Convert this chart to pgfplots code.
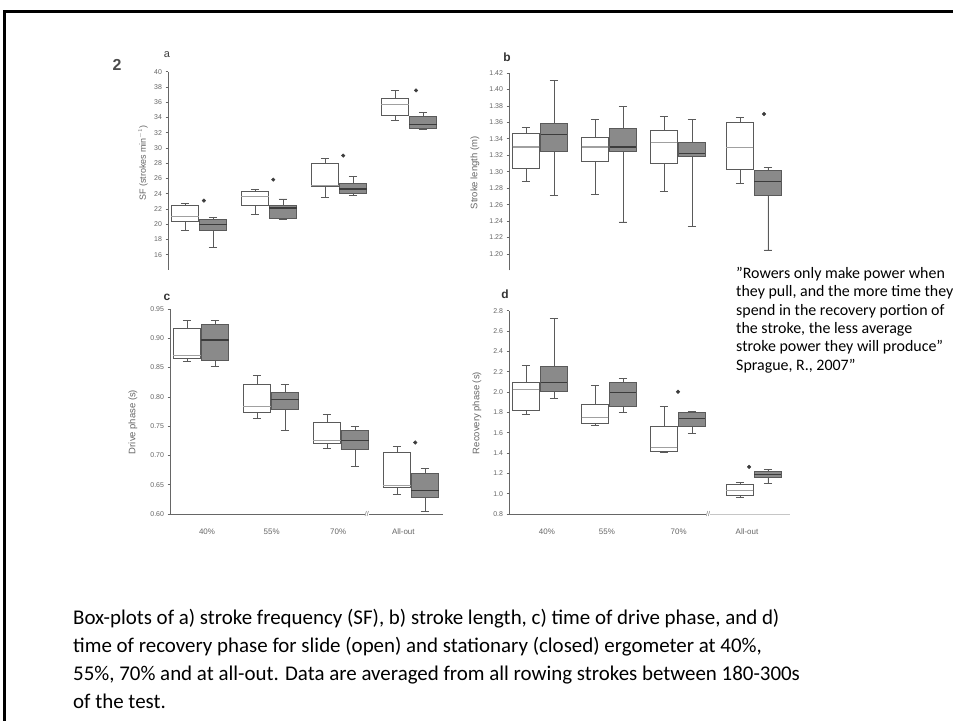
\documentclass[border=0pt]{standalone}
\usepackage{fontspec}
\setmainfont{Carlito}
\newfontfamily\figfont{Liberation Sans}
\usepackage{pgfplots}
\pgfplotsset{compat=1.18}
\usepgfplotslibrary{statistics}

\definecolor{axgray}{HTML}{666666}
\definecolor{boxdark}{HTML}{8A8A8A}
\definecolor{boxedge}{HTML}{5A5A5A}
\definecolor{medw}{HTML}{A0A0A0}
\definecolor{medd}{HTML}{3C3C3C}

\pgfplotsset{
 panel/.style={
  scale only axis, clip=false, anchor=south west,
  axis x line*=bottom, axis y line*=left,
  x axis line style={draw=none},
  y axis line style={axgray, line width=0.8bp, -},
  tick align=outside, major tick length=2.5bp,
  ytick style={axgray, line width=0.6bp},
  xtick style={draw=none},
  yticklabel style={font=\figfont\fontsize{7}{8}\selectfont, text=axgray},
  xticklabel style={font=\figfont\fontsize{8}{9}\selectfont, text=axgray, yshift=-9bp},
  /pgf/number format/assume math mode=true,
 },
 wbox/.style={draw=boxedge, fill=white, line width=0.8bp,
   boxplot/every median/.style={draw=medw, line width=1.2bp}},
 dbox/.style={draw=boxedge, fill=boxdark, line width=0.8bp,
   boxplot/every median/.style={draw=medd, line width=1.2bp}},
 star/.style={only marks, mark=*, mark size=1.8bp, color=medd},
}
% open (slide) box: position, lower whisker, lower quartile, median, upper quartile, upper whisker
\newcommand{\bw}[6]{\addplot[wbox, boxplot prepared={draw direction=y, draw position=#1, lower whisker=#2, lower quartile=#3, median=#4, upper quartile=#5, upper whisker=#6, box extend=0.39, whisker extend=0.12}] coordinates {};}
% closed (stationary) box
\newcommand{\bd}[6]{\addplot[dbox, boxplot prepared={draw direction=y, draw position=#1, lower whisker=#2, lower quartile=#3, median=#4, upper quartile=#5, upper whisker=#6, box extend=0.39, whisker extend=0.12}] coordinates {};}

\begin{document}
\begin{tikzpicture}[x=1bp,y=1bp]
\useasboundingbox (0,0) rectangle (953,721);
\fill[white] (0,0) rectangle (953,721);
\draw[line width=3bp] (4.5,0) -- (4.5,709) -- (953,709);

% ---------- panel a ----------
\begin{axis}[panel, at={(168bp,451bp)}, width=272.5bp, height=198.25bp,
  xmin=0.557, xmax=4.45, ymin=14, ymax=40,
  xtick=\empty, ytick={16,18,...,40}]
\bw{0.8}{19.2}{20.4}{21.0}{22.5}{22.7}
\bd{1.2}{16.9}{19.2}{20.0}{20.6}{20.9}
\bw{1.8}{21.26}{22.48}{23.67}{24.32}{24.63}
\bd{2.2}{20.6}{20.82}{22.13}{22.48}{23.31}
\bw{2.8}{23.53}{24.9}{25.05}{28.04}{28.61}
\bd{3.2}{23.75}{24.01}{24.63}{25.33}{26.25}
\bw{3.8}{33.65}{34.26}{35.71}{36.5}{37.55}
\bd{4.2}{32.42}{32.51}{33.08}{34.09}{34.61}
\addplot[star] coordinates {(1.07,23.1) (2.06,25.85) (3.06,29.0) (4.1,37.55)};
\end{axis}

% ---------- panel b ----------
\begin{axis}[panel, at={(509bp,450.5bp)}, width=280.8bp, height=197.6bp,
  xmin=0.551, xmax=4.62, ymin=1.18, ymax=1.42,
  xtick=\empty, ytick={1.20,1.22,1.24,1.26,1.28,1.30,1.32,1.34,1.36,1.38,1.40,1.42},
  yticklabel style={/pgf/number format/.cd, fixed, fixed zerofill, precision=2}]
\bw{0.797}{1.288}{1.304}{1.330}{1.346}{1.354}
\bd{1.203}{1.271}{1.325}{1.345}{1.359}{1.411}
\bw{1.797}{1.273}{1.313}{1.330}{1.342}{1.363}
\bd{2.203}{1.239}{1.325}{1.330}{1.352}{1.379}
\bw{2.797}{1.276}{1.310}{1.335}{1.350}{1.367}
\bd{3.203}{1.233}{1.318}{1.322}{1.335}{1.363}
\bw{3.897}{1.286}{1.303}{1.329}{1.360}{1.366}
\bd{4.303}{1.205}{1.271}{1.288}{1.301}{1.305}
\addplot[star] coordinates {(4.246,1.370)};
\end{axis}

% ---------- panel c ----------
\begin{axis}[panel, at={(170bp,207bp)}, width=272.5bp, height=205bp,
  xmin=0.557, xmax=4.45, ymin=0.60, ymax=0.95,
  xtick={1.086,2.01,2.96,3.89}, xticklabels={40\%,55\%,70\%,All-out},
  ytick={0.60,0.65,0.70,0.75,0.80,0.85,0.90,0.95},
  yticklabel style={/pgf/number format/.cd, fixed, fixed zerofill, precision=2}]
\bw{0.8}{0.860}{0.866}{0.870}{0.917}{0.931}
\bd{1.2}{0.852}{0.862}{0.897}{0.924}{0.931}
\bw{1.8}{0.763}{0.773}{0.783}{0.821}{0.836}
\bd{2.2}{0.742}{0.779}{0.795}{0.807}{0.821}
\bw{2.8}{0.712}{0.720}{0.725}{0.756}{0.770}
\bd{3.2}{0.681}{0.710}{0.726}{0.742}{0.750}
\bw{3.8}{0.634}{0.646}{0.648}{0.705}{0.715}
\bd{4.2}{0.605}{0.629}{0.640}{0.669}{0.677}
\addplot[star] coordinates {(4.06,0.722)};
\draw[axgray, line width=0.8bp] (axis cs:0.557,0.60) -- (axis cs:3.34,0.60);
\draw[axgray, line width=0.8bp] (axis cs:3.40,0.60) -- (axis cs:4.45,0.60);
\node[font=\figfont\fontsize{7}{8}\selectfont, text=axgray, inner sep=0] at (axis cs:3.37,0.60) {//};
\end{axis}

% ---------- panel d ----------
\begin{axis}[panel, at={(509bp,207bp)}, width=280.8bp, height=203.3bp,
  xmin=0.551, xmax=4.62, ymin=0.8, ymax=2.8,
  xtick={1.10,1.97,3.01,4.0}, xticklabels={40\%,55\%,70\%,All-out},
  ytick={0.8,1.0,1.2,1.4,1.6,1.8,2.0,2.2,2.4,2.6,2.8},
  yticklabel style={/pgf/number format/.cd, fixed, fixed zerofill, precision=1}]
\bw{0.797}{1.782}{1.815}{2.025}{2.091}{2.265}
\bd{1.203}{1.936}{2.009}{2.091}{2.255}{2.724}
\bw{1.797}{1.674}{1.690}{1.746}{1.877}{2.068}
\bd{2.203}{1.795}{1.854}{1.992}{2.097}{2.133}
\bw{2.797}{1.401}{1.417}{1.453}{1.657}{1.854}
\bd{3.203}{1.592}{1.664}{1.739}{1.795}{1.805}
\bw{3.897}{0.961}{0.984}{1.034}{1.090}{1.115}
\bd{4.303}{1.100}{1.159}{1.191}{1.221}{1.240}
\addplot[star] coordinates {(3.0,2.002) (4.03,1.263)};
\draw[axgray, line width=0.8bp] (axis cs:0.551,0.8) -- (axis cs:3.40,0.8);
\draw[gray!45, line width=0.8bp] (axis cs:3.47,0.8) -- (axis cs:4.62,0.8);
\node[font=\figfont\fontsize{7}{8}\selectfont, text=axgray, inner sep=0] at (axis cs:3.435,0.8) {//};
\end{axis}

% ---------- labels ----------
\node[font=\figfont\fontsize{9}{10}\selectfont, text=axgray, rotate=90] at (143,558) {SF (strokes min$^{-1}$)};
\node[font=\figfont\fontsize{9.5}{10}\selectfont, text=axgray, rotate=90] at (475,548) {Stroke length (m)};
\node[font=\figfont\fontsize{9.5}{10}\selectfont, text=axgray, rotate=90] at (133,299) {Drive phase (s)};
\node[font=\figfont\fontsize{9.5}{10}\selectfont, text=axgray, rotate=90] at (477,308) {Recovery phase (s)};

\node[font=\figfont\bfseries\fontsize{16}{18}\selectfont, text=black!70] at (117,656) {2};
\node[font=\figfont\fontsize{11}{12}\selectfont, text=black!75] at (167,666) {a};
\node[font=\figfont\bfseries\fontsize{12}{13}\selectfont, text=black!80] at (507,664) {b};
\node[font=\figfont\bfseries\fontsize{12}{13}\selectfont, text=black!80] at (167,424) {c};
\node[font=\figfont\bfseries\fontsize{12}{13}\selectfont, text=black!80] at (505,427) {d};

% ---------- quote ----------
\begin{scope}[every node/.style={anchor=base west, inner sep=0, font=\fontsize{16}{18}\selectfont}]
\node at (736,442) {”Rowers only make power when};
\node at (736,424) {they pull, and the more time they};
\node at (736,405) {spend in the recovery portion of};
\node at (736,387) {the stroke, the less average};
\node at (736,369) {stroke power they will produce”};
\node at (736,350) {Sprague, R., 2007”};
\end{scope}

% ---------- caption ----------
\begin{scope}[every node/.style={anchor=base west, inner sep=0, font=\fontsize{21}{28}\selectfont}]
\node at (73,96) {Box-plots of a) stroke frequency (SF), b) stroke length, c) time of drive phase, and d)};
\node at (73,68) {time of recovery phase for slide (open) and stationary (closed) ergometer at 40\%,};
\node at (73,40) {55\%, 70\% and at all-out. Data are averaged from all rowing strokes between 180-300s};
\node at (73,12) {of the test.};
\end{scope}
\end{tikzpicture}
\end{document}
